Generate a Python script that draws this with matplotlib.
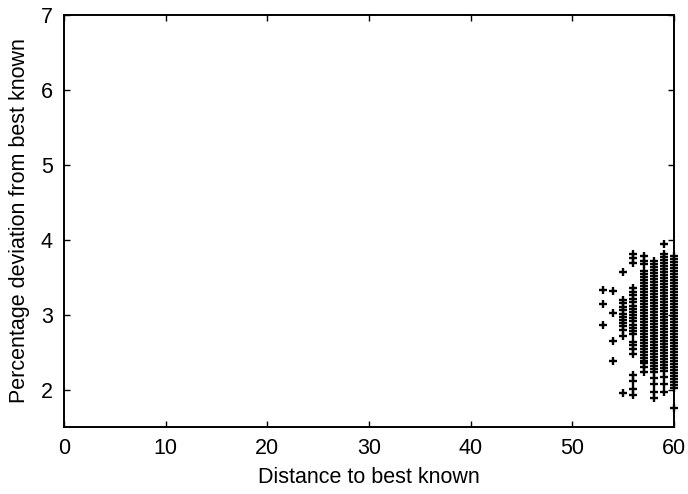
import matplotlib
matplotlib.use("Agg")
import matplotlib.pyplot as plt

# Deviation (%) from best known solution, grouped by distance to best known
dist_53 = [3.33, 3.14, 2.86]
dist_54 = [3.31, 3.02, 2.65, 2.38]
dist_55 = [3.57, 3.20, 3.15, 3.10, 3.06, 3.01, 2.97, 2.93, 2.89, 2.85, 2.80, 2.72, 1.96]
dist_56 = [3.81, 3.76, 3.69, 3.35, 3.30, 3.26, 3.21, 3.17, 3.12, 3.08, 3.04, 3.00,
           2.95, 2.91, 2.86, 2.82, 2.78, 2.74, 2.64, 2.60, 2.54, 2.48,
           2.20, 2.11, 2.01, 1.93]
dist_57 = [3.78, 3.72, 3.67, 3.58, 3.54, 3.50, 3.46, 3.42, 3.38, 3.34, 3.30, 3.26,
           3.22, 3.18, 3.14, 3.10, 3.06, 3.02, 2.98, 2.94, 2.90, 2.86, 2.82, 2.78,
           2.74, 2.70, 2.66, 2.62, 2.58, 2.54, 2.50, 2.46, 2.42, 2.38, 2.35, 2.30, 2.24]
dist_58 = [3.72, 3.68, 3.64, 3.60, 3.56, 3.52, 3.48, 3.44, 3.40, 3.36, 3.32, 3.28,
           3.24, 3.20, 3.16, 3.12, 3.08, 3.04, 3.00, 2.96, 2.92, 2.88, 2.84, 2.80,
           2.76, 2.72, 2.68, 2.64, 2.60, 2.56, 2.52, 2.48, 2.44, 2.40, 2.36, 2.32,
           2.28, 2.24, 2.15, 2.07, 1.97, 1.89]
dist_59 = [3.94, 3.81, 3.77, 3.73, 3.69, 3.65, 3.61, 3.57, 3.53, 3.49, 3.45, 3.41,
           3.37, 3.33, 3.29, 3.25, 3.21, 3.17, 3.13, 3.09, 3.05, 3.01, 2.97, 2.93,
           2.89, 2.85, 2.81, 2.77, 2.73, 2.69, 2.65, 2.61, 2.57, 2.53, 2.49, 2.45,
           2.41, 2.37, 2.33, 2.29, 2.25, 2.17, 2.07, 1.97]
dist_60 = [3.78, 3.74, 3.70, 3.66, 3.62, 3.58, 3.54, 3.50, 3.46, 3.42, 3.38, 3.34,
           3.30, 3.26, 3.22, 3.18, 3.14, 3.10, 3.06, 3.02, 2.98, 2.94, 2.90, 2.86,
           2.82, 2.78, 2.74, 2.70, 2.66, 2.62, 2.58, 2.54, 2.50, 2.46, 2.42, 2.38,
           2.34, 2.30, 2.26, 2.22, 2.18, 2.14, 2.10, 2.06, 2.02, 1.75]

groups = {53: dist_53, 54: dist_54, 55: dist_55, 56: dist_56,
          57: dist_57, 58: dist_58, 59: dist_59, 60: dist_60}

xticks = [0, 10, 20, 30, 40, 50, 60]
yticks = [2, 3, 4, 5, 6, 7]

plt.rcParams['font.family'] = ['Liberation Sans', 'DejaVu Sans']

fig = plt.figure(figsize=(6.88, 4.94), dpi=100)
ax = fig.add_axes([64 / 688, 1 - 427 / 494, (674 - 64) / 688, (427 - 15) / 494])

xs, ys = [], []
for d, vals in groups.items():
    xs.extend([d] * len(vals))
    ys.extend(vals)
ax.plot(xs, ys, linestyle='none', marker='+', markersize=5.5, markeredgewidth=1.7,
        color='black', clip_on=False, zorder=3)

ax.set_xlim(0, 60)
ax.set_ylim(1.5, 7)
ax.set_xticks(xticks)
ax.set_yticks(yticks)
ax.tick_params(direction='in', length=4.5, width=1.0, top=True, right=True,
               labelsize=15.5, pad=8, color='black')
for s in ax.spines.values():
    s.set_linewidth(1.4)

ax.set_xlabel('Distance to best known', fontsize=15.5, labelpad=6)
ax.set_ylabel('Percentage deviation from best known', fontsize=15.5, labelpad=8)

fig.savefig('out.png', dpi=100)
